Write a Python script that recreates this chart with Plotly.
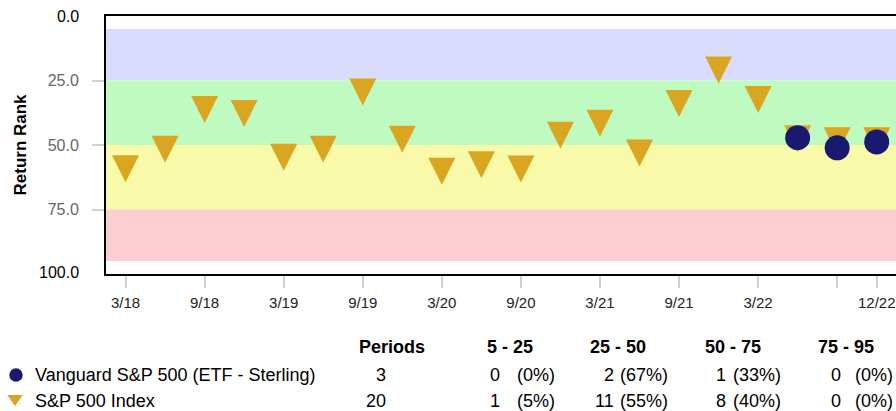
import plotly.graph_objects as go

# ---------------- data ----------------
quarters = ["3/18", "6/18", "9/18", "12/18", "3/19", "6/19", "9/19", "12/19",
            "3/20", "6/20", "9/20", "12/20", "3/21", "6/21", "9/21", "12/21",
            "3/22", "6/22", "9/22", "12/22"]
sp500_rank = [59.2, 51.6, 36.2, 37.8, 54.7, 51.6, 29.5, 47.8,
              60.2, 57.7, 59.3, 46.2, 41.6, 53.1, 33.9, 20.9,
              32.4, 47.6, 48.4, 48.4]
vanguard_quarters = ["6/22", "9/22", "12/22"]
vanguard_rank = [47.2, 51.1, 48.8]

tick_labels = ["3/18", "9/18", "3/19", "9/19", "3/20", "9/20", "3/21", "9/21", "3/22", "", "12/22"]
tick_quarters = ["3/18", "9/18", "3/19", "9/19", "3/20", "9/20", "3/21", "9/21", "3/22", "9/22", "12/22"]

band_edges = [(5, 25), (25, 50), (50, 75), (75, 95)]
band_colors = ["#D9DCFD", "#BFFBC0", "#F9F9AA", "#FBCED2"]
band_labels = ["5 - 25", "25 - 50", "50 - 75", "75 - 95"]

series_names = ["Vanguard S&P 500 (ETF - Sterling)", "S&P 500 Index"]
periods = [3, 20]
counts = [[0, 2, 1, 0], [1, 11, 8, 0]]
pcts = [[0, 67, 33, 0], [5, 55, 40, 0]]

GOLD = "#DAA520"
NAVY = "#191970"
FONT = "Liberation Sans, Arial, Helvetica, sans-serif"

W, H = 896, 411
L_REF, BOTTOM_REF = 106, 274          # plot left / bottom in window pixels
L, R, T = L_REF, 0, 16
B = H - BOTTOM_REF

x_index = {q: i for i, q in enumerate(quarters)}

fig = go.Figure()

shapes = []
# rank bands
for (y0, y1), c in zip(band_edges, band_colors):
    shapes.append(dict(type="rect", xref="paper", yref="y", x0=0, x1=1, y0=y0, y1=y1,
                       fillcolor=c, line=dict(width=0), layer="below"))
# index triangles (pixel-sized, anchored on data)
tri = "M -13.5 13.5 L 13.5 13.5 L 0 -13.5 Z"
for q, v in zip(quarters, sp500_rank):
    shapes.append(dict(type="path", xref="x", yref="y", xsizemode="pixel", ysizemode="pixel",
                       xanchor=x_index[q], yanchor=v, path=tri,
                       fillcolor=GOLD, line=dict(width=0), layer="below"))

# fund circles
fig.add_trace(go.Scatter(
    x=[x_index[q] for q in vanguard_quarters], y=vanguard_rank, mode="markers",
    marker=dict(symbol="circle", size=25, color=NAVY, line=dict(width=0)),
    name=series_names[0], showlegend=False, cliponaxis=False, hoverinfo="skip"))

# window-pixel -> offsets relative to plot bottom-left
def px(xp):
    return xp - L_REF

def py(yp):
    return BOTTOM_REF - yp

shapes.append(dict(type="circle", xref="paper", yref="paper", xsizemode="pixel", ysizemode="pixel",
                   xanchor=0, yanchor=0, x0=px(9.3), x1=px(22.7), y0=py(381.7), y1=py(368.3),
                   fillcolor=NAVY, line=dict(width=0)))
shapes.append(dict(type="path", xref="paper", yref="paper", xsizemode="pixel", ysizemode="pixel",
                   xanchor=0, yanchor=0,
                   path=f"M {px(7.3)} {py(395)} L {px(22.7)} {py(395)} L {px(15)} {py(406)} Z",
                   fillcolor=GOLD, line=dict(width=0)))

annotations = []
TS = 18  # table font size

def ann(text, xp, yp, anchor="left", bold=False, size=TS, color="#000"):
    t = f"<b>{text}</b>" if bold else text
    annotations.append(dict(text=t, xref="paper", yref="paper", x=0, y=0,
                            xshift=px(xp), yshift=py(yp),
                            xanchor=anchor, yanchor="middle", showarrow=False,
                            font=dict(family=FONT, size=size, color=color)))

# y-axis title
annotations.append(dict(text="<b>Return Rank</b>", xref="paper", yref="paper", x=0, y=0.5,
                        xshift=px(19.5), xanchor="center", yanchor="middle", textangle=-90,
                        showarrow=False, font=dict(family=FONT, size=17, color="#000")))
# y end labels (0.0 / 100.0)
for val, txt, ys in [(0, "0.0", 0), (100, "100.0", 2)]:
    annotations.append(dict(text=txt, xref="paper", yref="y", x=0, y=val, xshift=px(81), yshift=ys,
                            xanchor="right", yanchor="middle", showarrow=False,
                            font=dict(family=FONT, size=16, color="#000")))

# table
row_y = [375, 401]
ann("Periods", 392, 347, anchor="center", bold=True)
head_center = [510, 618, 733, 846]
count_right = [502, 616, 728, 843]
pct_right = [557, 670, 783, 895]
for lbl, xc in zip(band_labels, head_center):
    ann(lbl, xc, 347, anchor="center", bold=True)
for r, name in enumerate(series_names):
    ann(name, 33, row_y[r])
    ann(str(periods[r]), 388, row_y[r], anchor="right")
    for c in range(len(band_labels)):
        ann(str(counts[r][c]), count_right[c], row_y[r], anchor="right")
        ann(f"({pcts[r][c]}%)", pct_right[c], row_y[r], anchor="right")

fig.update_layout(
    width=W, height=H,
    margin=dict(l=L, r=R, t=T, b=B),
    paper_bgcolor="white", plot_bgcolor="white",
    showlegend=False,
    shapes=shapes, annotations=annotations,
    font=dict(family=FONT, size=16, color="#000"),
    xaxis=dict(
        range=[-0.494, 19.488], showgrid=False, zeroline=False,
        showline=True, linecolor="#000", linewidth=2, mirror=True,
        tickmode="array", tickvals=[x_index[q] for q in tick_quarters], ticktext=tick_labels,
        ticks="outside", ticklen=12, tickwidth=2, tickcolor="#D0D0D0",
        tickfont=dict(family=FONT, size=15, color="#222"), ticklabelstandoff=2,
    ),
    yaxis=dict(
        range=[100, 0], showgrid=False, zeroline=False,
        showline=True, linecolor="#000", linewidth=2,
        tickmode="array", tickvals=[25, 50, 75], ticktext=["25.0", "50.0", "75.0"],
        ticks="outside", ticklen=12, tickwidth=2, tickcolor="#D0D0D0",
        tickfont=dict(family=FONT, size=16, color="#666"), ticklabelstandoff=10,
    ),
)

# remove the page's default body margin so the figure fills the window exactly
fig.write_html("out.html", config={"displayModeBar": False},
               post_script="document.body.style.margin='0';document.body.style.overflow='hidden';")
